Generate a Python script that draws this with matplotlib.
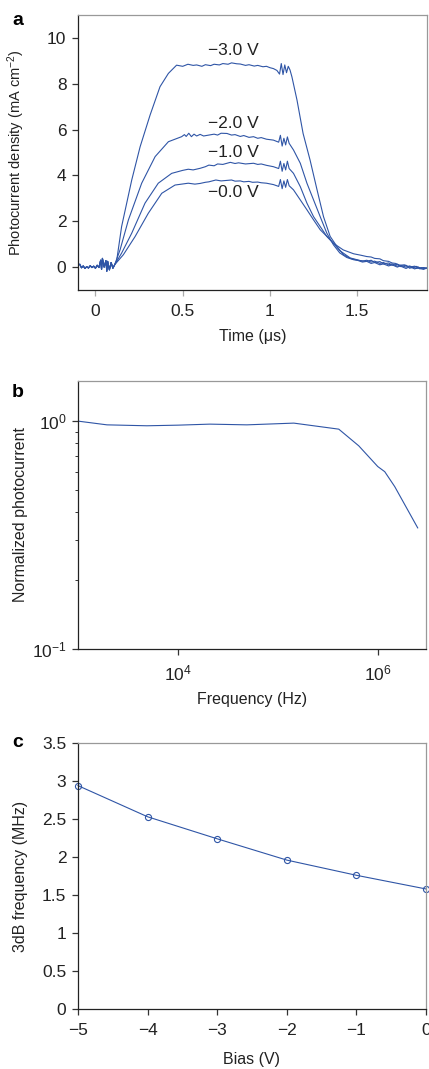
import numpy as np
import matplotlib
matplotlib.use("Agg")
import matplotlib.pyplot as plt
from matplotlib.ticker import NullFormatter, NullLocator, LogLocator

plt.rcParams['font.family'] = ['Liberation Sans', 'DejaVu Sans']
plt.rcParams['mathtext.default'] = 'regular'
plt.rcParams['font.size'] = 11

BLUE = '#2f55a6'

# ---- panel a: transient photocurrent (time in us, mA cm^-2)
t_base = [-0.09, -0.08, -0.07, -0.06, -0.05, -0.04, -0.03, -0.02, -0.01, 0.0, 0.01, 0.02,
          0.03, 0.035, 0.04, 0.05, 0.06, 0.065, 0.07, 0.08, 0.09, 0.10, 0.11]
v_base = [0.12, -0.03, 0.05, -0.06, 0.02, -0.04, 0.06, -0.02, 0.04, -0.05, 0.08, -0.02,
          0.30, -0.10, 0.38, 0.0, 0.28, -0.18, 0.25, -0.12, 0.20, -0.05, 0.10]

t_3v = [0.122, 0.15, 0.208, 0.256, 0.313, 0.37, 0.418, 0.465, 0.50, 0.53, 0.56, 0.58, 0.61,
        0.63, 0.66, 0.68, 0.71, 0.73, 0.76, 0.78, 0.81, 0.83, 0.86, 0.88, 0.91, 0.93, 0.96,
        0.98, 1.00, 1.02, 1.04, 1.055, 1.065, 1.075, 1.085, 1.095, 1.105, 1.115, 1.126,
        1.155, 1.19, 1.23, 1.27, 1.307, 1.345, 1.384, 1.42, 1.46, 1.50, 1.53, 1.555, 1.58,
        1.60, 1.63, 1.65, 1.68, 1.70, 1.73, 1.746, 1.78, 1.80, 1.83, 1.85, 1.88, 1.90]
v_3v = [0.30, 1.77, 3.80, 5.25, 6.63, 7.87, 8.45, 8.81, 8.76, 8.85, 8.80, 8.82, 8.76,
        8.83, 8.79, 8.85, 8.82, 8.88, 8.85, 8.91, 8.87, 8.86, 8.80, 8.83, 8.77, 8.80, 8.74,
        8.76, 8.70, 8.66, 8.58, 8.42, 8.88, 8.40, 8.82, 8.48, 8.76, 8.60, 8.30,
        7.29, 5.83, 4.67, 3.37, 2.20, 1.34, 0.90, 0.55, 0.38, 0.30, 0.22, 0.25, 0.16,
        0.20, 0.10, 0.14, 0.05, 0.10, 0.00, 0.05, -0.06, 0.02, -0.08, 0.00, -0.10, -0.04]

t_2v = [0.141, 0.189, 0.265, 0.342, 0.418, 0.494, 0.51, 0.52, 0.535, 0.55, 0.565, 0.58,
        0.60, 0.62, 0.65, 0.68, 0.70, 0.72, 0.754, 0.78, 0.80, 0.83, 0.85, 0.88, 0.906,
        0.93, 0.95, 0.98, 1.02, 1.05, 1.06, 1.07, 1.08, 1.09, 1.10, 1.11, 1.135, 1.174,
        1.212, 1.25, 1.288, 1.326, 1.364, 1.40, 1.44, 1.48, 1.52, 1.555, 1.58, 1.60, 1.63,
        1.65, 1.68, 1.70, 1.73, 1.75, 1.78, 1.80, 1.84, 1.87, 1.90]
v_2v = [0.75, 2.06, 3.66, 4.82, 5.47, 5.69, 5.78, 5.70, 5.84, 5.69, 5.80, 5.72,
        5.79, 5.72, 5.76, 5.80, 5.76, 5.84, 5.83, 5.76, 5.78, 5.70, 5.74, 5.66, 5.69,
        5.62, 5.65, 5.58, 5.54, 5.45, 5.75, 5.28, 5.62, 5.33, 5.68, 5.40, 5.11, 4.53,
        3.66, 2.93, 2.20, 1.48, 0.97, 0.62, 0.42, 0.32, 0.28, 0.25, 0.30, 0.20, 0.24,
        0.14, 0.18, 0.08, 0.12, 0.02, 0.08, -0.05, 0.03, -0.08, -0.04]

t_1v = [0.15, 0.208, 0.284, 0.36, 0.437, 0.50, 0.532, 0.56, 0.60, 0.63, 0.65, 0.68, 0.70,
        0.73, 0.773, 0.80, 0.82, 0.86, 0.906, 0.93, 0.95, 0.98, 1.02, 1.05, 1.06, 1.07,
        1.08, 1.09, 1.10, 1.11, 1.135, 1.174, 1.212, 1.25, 1.288, 1.326, 1.364, 1.40,
        1.46, 1.50, 1.53, 1.555, 1.58, 1.60, 1.63, 1.65, 1.68, 1.70, 1.73, 1.75, 1.78,
        1.80, 1.84, 1.87, 1.90]
v_1v = [0.61, 1.48, 2.79, 3.66, 4.09, 4.22, 4.27, 4.24, 4.31, 4.38, 4.45, 4.42, 4.50,
        4.48, 4.57, 4.52, 4.55, 4.50, 4.53, 4.48, 4.50, 4.44, 4.38, 4.30, 4.62, 4.18,
        4.52, 4.24, 4.62, 4.30, 4.09, 3.51, 2.79, 2.20, 1.77, 1.34, 1.04, 0.72,
        0.40, 0.32, 0.26, 0.30, 0.22, 0.26, 0.16, 0.20, 0.10, 0.14, 0.04, 0.08, 0.00,
        0.05, -0.06, -0.02, -0.05]

t_0v = [0.16, 0.227, 0.303, 0.38, 0.456, 0.532, 0.57, 0.60, 0.63, 0.65, 0.69, 0.72, 0.75,
        0.78, 0.80, 0.83, 0.85, 0.88, 0.90, 0.93, 0.95, 0.98, 1.02, 1.05, 1.06, 1.07, 1.08,
        1.09, 1.10, 1.11, 1.135, 1.174, 1.212, 1.25, 1.288, 1.326, 1.364, 1.42, 1.48, 1.52,
        1.555, 1.58, 1.60, 1.63, 1.65, 1.68, 1.70, 1.72, 1.746, 1.77, 1.80, 1.83, 1.86,
        1.88, 1.90]
v_0v = [0.54, 1.33, 2.35, 3.22, 3.58, 3.66, 3.62, 3.65, 3.70, 3.72, 3.80, 3.76, 3.78,
        3.80, 3.75, 3.76, 3.72, 3.74, 3.70, 3.71, 3.68, 3.66, 3.60, 3.52, 3.82, 3.42, 3.76,
        3.48, 3.82, 3.55, 3.37, 2.93, 2.50, 2.06, 1.63, 1.34, 1.04, 0.75, 0.58, 0.52,
        0.46, 0.44, 0.38, 0.36, 0.28, 0.25, 0.18, 0.16, 0.08, 0.10, 0.0, 0.04, -0.08,
        -0.02, -0.06]

labels_a = ['\u22123.0 V', '\u22122.0 V', '\u22121.0 V', '\u22120.0 V']
label_y = [9.43, 6.27, 4.99, 3.25]

# ---- panel b: frequency response
freq = [1e3, 10**3.29, 10**3.69, 1e4, 10**4.32, 10**4.69, 10**5.16, 10**5.61,
        10**5.81, 1e6, 10**6.07, 10**6.17, 10**6.4]
norm_pc = [1.0, 0.963, 0.954, 0.96, 0.97, 0.963, 0.98, 0.922, 0.779, 0.632, 0.60, 0.516, 0.34]

# ---- panel c: 3dB frequency vs bias
bias = [-5, -4, -3, -2, -1, 0]
f3db = [2.94, 2.53, 2.24, 1.96, 1.76, 1.58]


def style(ax):
    for s in ['left', 'bottom']:
        ax.spines[s].set_color('#222222')
        ax.spines[s].set_linewidth(0.9)
    for s in ['top', 'right']:
        ax.spines[s].set_color('#999999')
        ax.spines[s].set_linewidth(0.9)
    ax.tick_params(which='major', direction='out', length=4.3, width=0.9,
                   top=False, right=False, labelsize=12.5, pad=4, color='#333333',
                   labelcolor='#222222')
    ax.tick_params(axis='x', which='major', pad=6)
    ax.yaxis.set_label_coords(-0.145, 0.5)


fig = plt.figure(figsize=(4.29, 10.69), dpi=100)

# a
ax = fig.add_axes([0.1818, 0.7287, 0.8135, 0.2573])
style(ax)
for tt, vv in ((t_3v, v_3v), (t_2v, v_2v), (t_1v, v_1v), (t_0v, v_0v)):
    ax.plot(t_base + tt, v_base + vv, color=BLUE, lw=0.8)
for lab, ly in zip(labels_a, label_y):
    ax.text(0.79, ly, lab, ha='center', va='center', fontsize=12.5, color='#222222')
ax.set_xlim(-0.1, 1.9)
ax.set_ylim(-1, 11)
ax.set_xticks([0, 0.5, 1, 1.5])
ax.set_xticklabels(['0', '0.5', '1', '1.5'])
ax.set_yticks([0, 2, 4, 6, 8, 10])
ax.tick_params(axis='x', color='#aaaaaa')
ax.set_xlabel('Time (\u03bcs)', fontsize=11.5, labelpad=7, color='#222222')
ax.set_ylabel('Photocurrent density (mA cm$^{\u22122}$)', fontsize=10.5, color='#222222')
fig.text(0.042, 0.981, 'a', fontsize=14, fontweight='bold', ha='center', va='center')

# b
ax = fig.add_axes([0.1818, 0.3929, 0.8112, 0.2507])
style(ax)
ax.plot(freq, norm_pc, color=BLUE, lw=0.8)
ax.set_xscale('log')
ax.set_yscale('log')
ax.set_xlim(1e3, 10**6.483)
ax.set_ylim(0.1, 1.5)
ax.set_xticks([1e4, 1e6])
ax.xaxis.set_minor_locator(NullLocator())
ax.yaxis.set_major_locator(LogLocator(base=10, numticks=5))
ax.yaxis.set_minor_formatter(NullFormatter())
ax.tick_params(axis='y', which='minor', direction='out', length=2.5, width=0.7,
               color='#333333', right=False)
ax.set_xlabel('Frequency (Hz)', fontsize=11.5, labelpad=6, color='#222222')
ax.set_ylabel('Normalized photocurrent', fontsize=11.5, color='#222222')
fig.text(0.042, 0.633, 'b', fontsize=14, fontweight='bold', ha='center', va='center')

# c
ax = fig.add_axes([0.1818, 0.0561, 0.8112, 0.2488])
style(ax)
ax.plot(bias, f3db, color=BLUE, lw=0.8, marker='o', ms=4.4, mfc='none', mew=0.8,
        clip_on=False)
ax.set_xlim(-5, 0)
ax.set_ylim(0, 3.5)
ax.set_xticks(bias)
ax.set_yticks([0, 0.5, 1, 1.5, 2, 2.5, 3, 3.5])
ax.set_yticklabels(['0', '0.5', '1', '1.5', '2', '2.5', '3', '3.5'])
ax.set_xlabel('Bias (V)', fontsize=11.5, labelpad=10, color='#222222')
ax.set_ylabel('3dB frequency (MHz)', fontsize=11.5, color='#222222')
fig.text(0.042, 0.305, 'c', fontsize=14, fontweight='bold', ha='center', va='center')

fig.savefig('out.png', dpi=100)
